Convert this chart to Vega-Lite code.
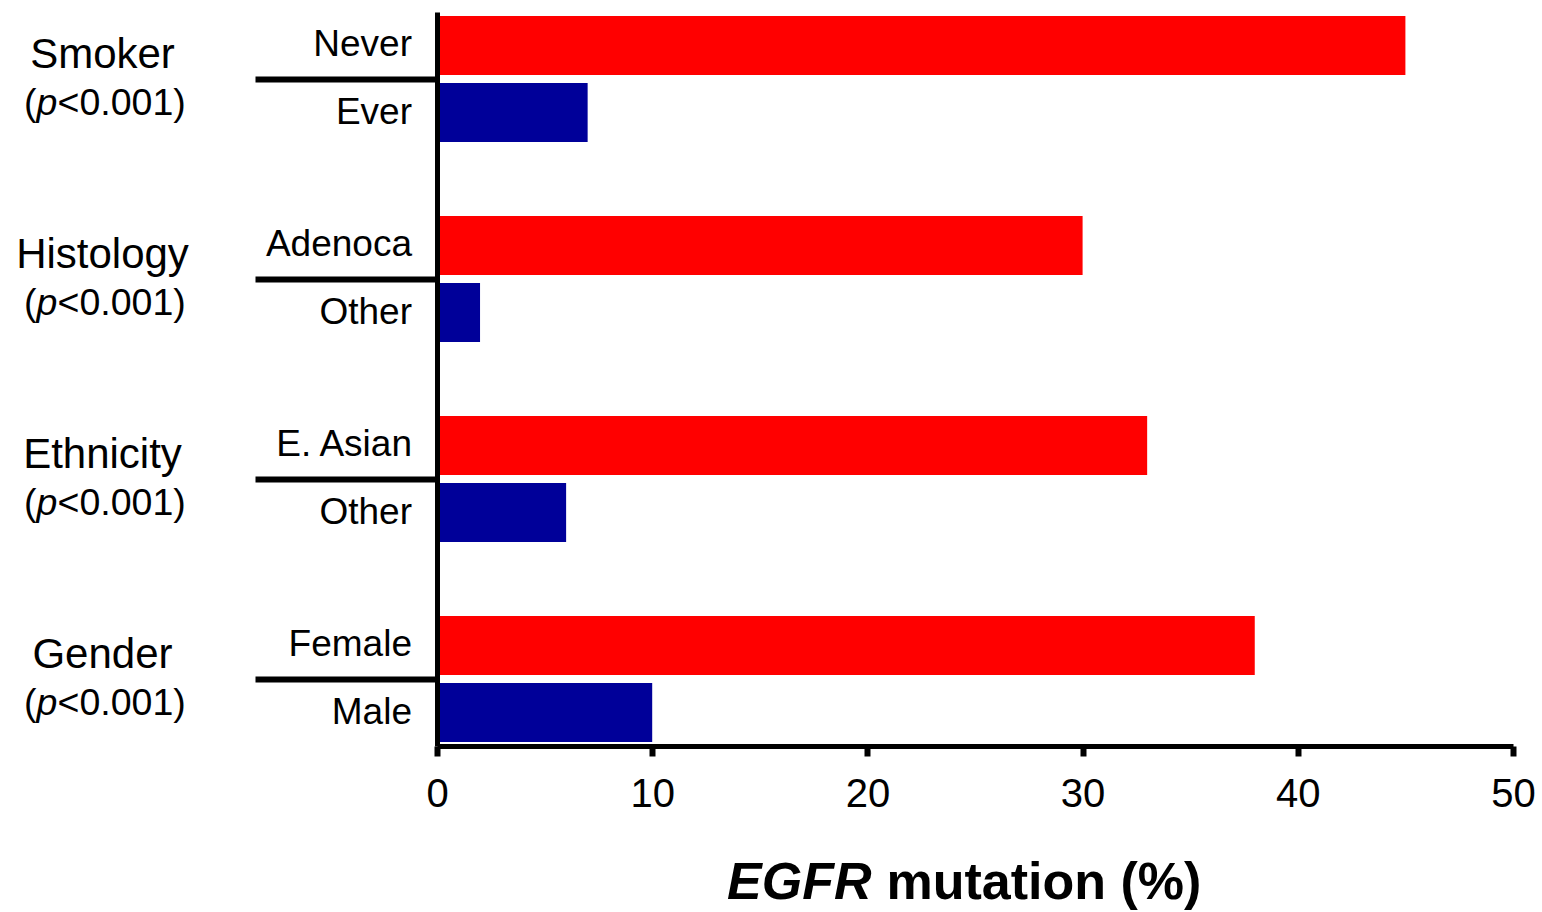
{
  "$schema": "https://vega.github.io/schema/vega-lite/v6.json",
  "width": 1076,
  "height": 734,
  "autosize": {"type": "none"},
  "padding": {"left": 437, "top": 12, "right": 29, "bottom": 166},
  "background": "white",
  "config": {"font": "Liberation Sans", "view": {"stroke": null}},
  "data": {
    "values": [
      {"group": "Smoker", "level": "first", "label": "Never", "value": 45},
      {"group": "Smoker", "level": "second", "label": "Ever", "value": 7},
      {"group": "Histology", "level": "first", "label": "Adenoca", "value": 30},
      {"group": "Histology", "level": "second", "label": "Other", "value": 2},
      {"group": "Ethnicity", "level": "first", "label": "E. Asian", "value": 33},
      {"group": "Ethnicity", "level": "second", "label": "Other", "value": 6},
      {"group": "Gender", "level": "first", "label": "Female", "value": 38},
      {"group": "Gender", "level": "second", "label": "Male", "value": 10}
    ]
  },
  "encoding": {
    "y": {
      "field": "group",
      "type": "nominal",
      "sort": ["Smoker", "Histology", "Ethnicity", "Gender"],
      "scale": {"paddingInner": 0.37, "paddingOuter": 0.02},
      "axis": {
        "title": "mutation (%)",
        "titleAngle": 0,
        "titleX": 449,
        "titleY": 886,
        "titleAlign": "left",
        "titleBaseline": "alphabetic",
        "titleFontSize": 52,
        "titleFontWeight": "bold",
        "titleColor": "black",
        "labelFontSize": 42,
        "labelColor": "black",
        "labelAlign": "center",
        "labelBaseline": "middle",
        "labelPadding": 153,
        "labelOffset": -24,
        "tickSize": 182,
        "tickWidth": 6,
        "tickColor": "black",
        "domainColor": "black",
        "domainWidth": 5,
        "zindex": 1
      }
    }
  },
  "layer": [
    {
      "mark": {"type": "bar"},
      "encoding": {
        "x": {
          "field": "value",
          "type": "quantitative",
          "scale": {"domain": [0, 50], "nice": false},
          "axis": {
            "values": [0, 10, 20, 30, 40, 50],
            "grid": false,
            "title": "EGFR",
            "titleX": 434,
            "titleY": 152,
            "titleAlign": "right",
            "titleBaseline": "alphabetic",
            "titleFontSize": 52,
            "titleFontWeight": "bold",
            "titleFontStyle": "italic",
            "titleColor": "black",
            "labelFontSize": 40,
            "labelColor": "black",
            "labelFlush": false,
            "labelPadding": 18,
            "tickSize": 10,
            "tickWidth": 6,
            "tickColor": "black",
            "domainColor": "black",
            "domainWidth": 5,
            "zindex": 1
          }
        },
        "yOffset": {
          "field": "level",
          "type": "nominal",
          "sort": ["first", "second"],
          "scale": {"paddingInner": 0.12, "paddingOuter": 0}
        },
        "color": {
          "field": "level",
          "type": "nominal",
          "scale": {"domain": ["first", "second"], "range": ["#FF0000", "#000099"]},
          "legend": null
        }
      }
    },
    {
      "mark": {"type": "text", "align": "right", "baseline": "middle", "dx": -25, "fontSize": 37, "color": "black"},
      "encoding": {
        "x": {"datum": 0},
        "yOffset": {"field": "level", "type": "nominal", "sort": ["first", "second"]},
        "text": {"field": "label"}
      }
    },
    {
      "transform": [{"filter": "datum.level == 'first'"}],
      "mark": {"type": "text", "align": "left", "baseline": "middle", "dx": -413, "dy": 25, "fontSize": 37.5, "color": "black"},
      "encoding": {"x": {"datum": 0}, "text": {"value": "("}}
    },
    {
      "transform": [{"filter": "datum.level == 'first'"}],
      "mark": {"type": "text", "align": "left", "baseline": "middle", "dx": -400.5, "dy": 25, "fontSize": 37.5, "fontStyle": "italic", "color": "black"},
      "encoding": {"x": {"datum": 0}, "text": {"value": "p"}}
    },
    {
      "transform": [{"filter": "datum.level == 'first'"}],
      "mark": {"type": "text", "align": "left", "baseline": "middle", "dx": -379.5, "dy": 25, "fontSize": 37.5, "color": "black"},
      "encoding": {"x": {"datum": 0}, "text": {"value": "<0.001)"}}
    }
  ]
}
